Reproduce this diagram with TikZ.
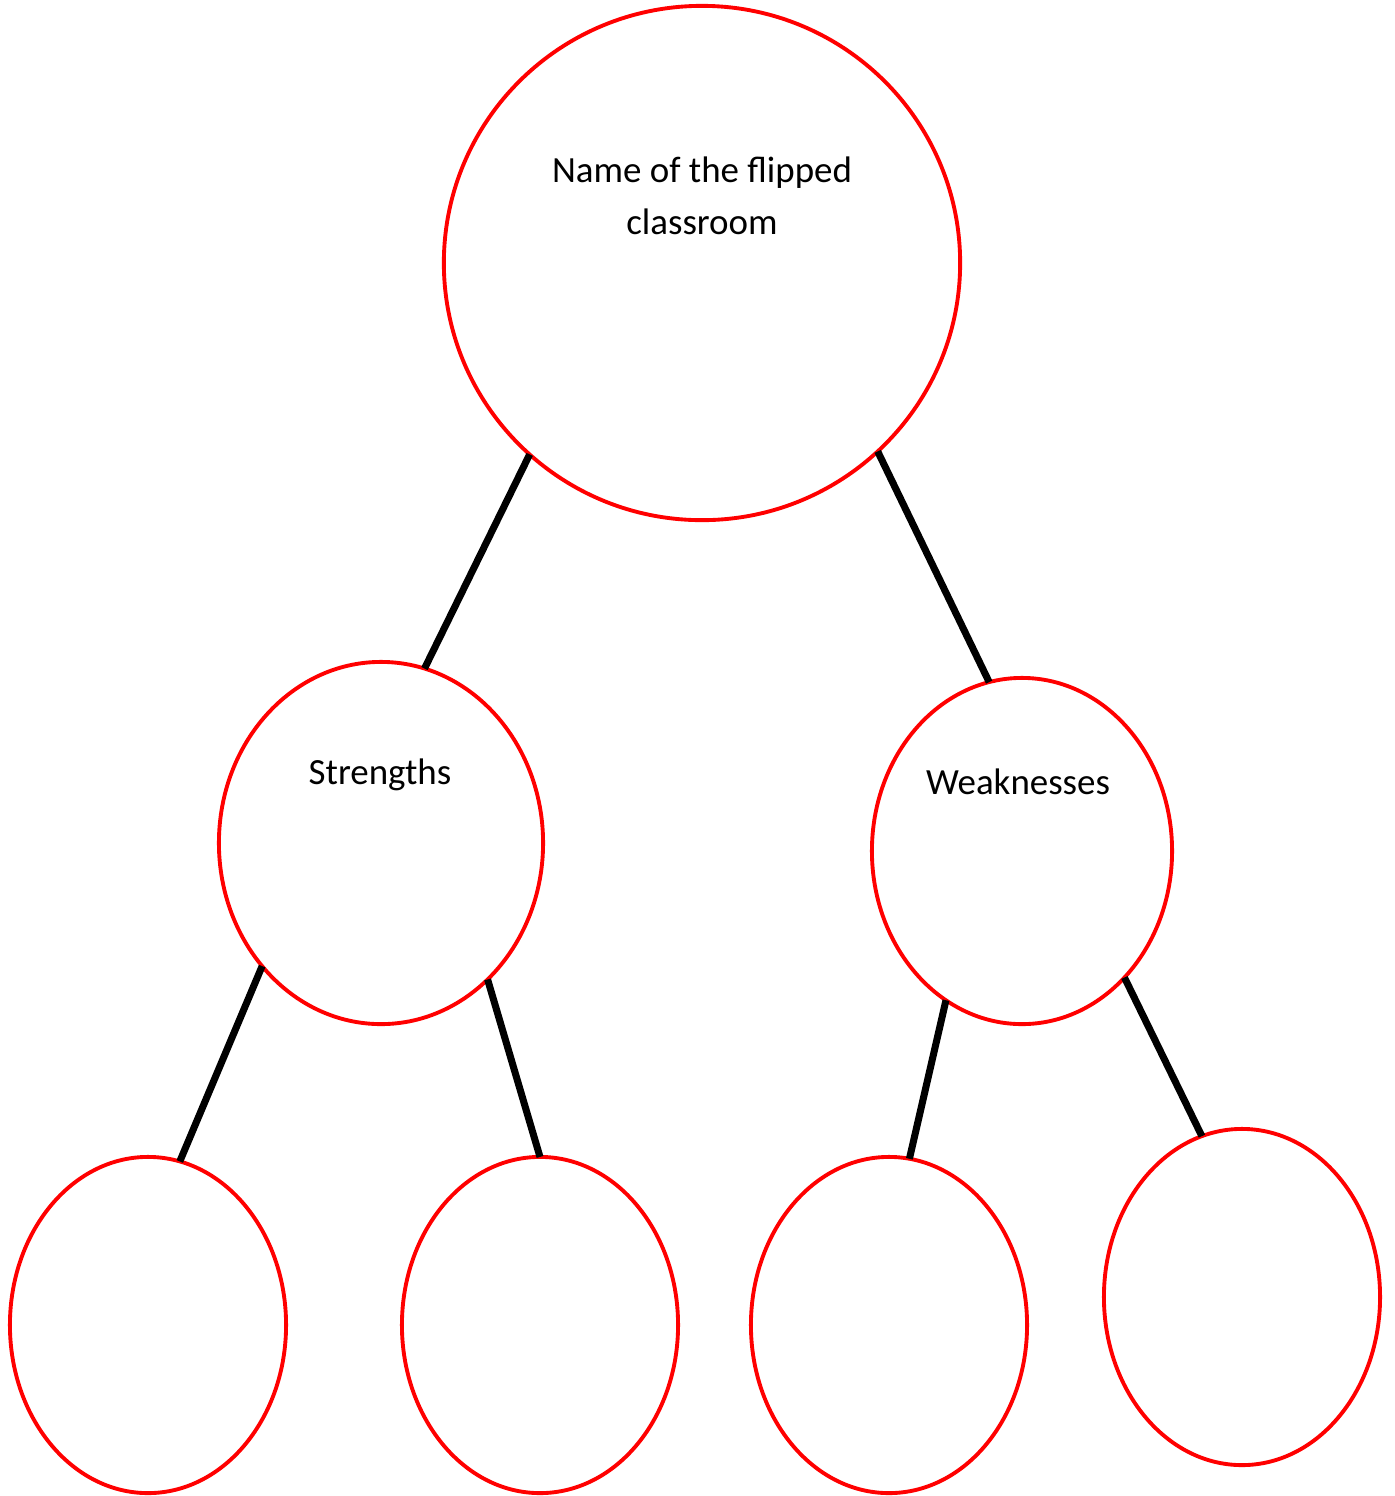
\documentclass[tikz,border=0pt]{standalone}
\usepackage{fontspec}
\setmainfont{Carlito}
\usetikzlibrary{shapes.geometric}

\begin{document}
\begin{tikzpicture}[x=0.01cm,y=-0.01cm,
        bubble/.style={draw=red, line width=1.1pt, ellipse, inner sep=0pt, outer sep=0pt},
        link/.style={line width=2pt, black},
        caption/.style={font=\fontsize{10.5}{14.8}\selectfont, align=center, inner sep=0pt}]
        \useasboundingbox (0,0) rectangle (1395,1496);

        % the ellipses
        \node[bubble, minimum width=5.16cm, minimum height=5.14cm] (flip) at (702,263) {};
        \node[bubble, minimum width=3.24cm, minimum height=3.62cm] (str) at (381,843) {};
        \node[bubble, minimum width=3.00cm, minimum height=3.46cm] (weak) at (1022,851) {};
        \node[bubble, minimum width=2.76cm, minimum height=3.36cm] (sa) at (148,1325) {};
        \node[bubble, minimum width=2.76cm, minimum height=3.36cm] (sb) at (540,1325) {};
        \node[bubble, minimum width=2.76cm, minimum height=3.36cm] (wa) at (889,1325) {};
        \node[bubble, minimum width=2.76cm, minimum height=3.36cm] (wb) at (1242,1297) {};

        % the texts
        \node[caption] (fliptext) at (702,196) {Name of the flipped\\classroom};
        \node[caption, anchor=base] (strtext) at (380,784) {Strengths};
        \node[caption, anchor=base] (weaktext) at (1018,794) {Weaknesses};

        % the links
        \draw[link] (flip.228) -- (str.76);
        \draw[link] (flip.313) -- (weak.101);
        \draw[link] (str.226) -- (sa.79);
        \draw[link] (str.308) -- (sb.90);
        \draw[link] (weak.243) -- (wa.83);
        \draw[link] (weak.309) -- (wb.104);
    \end{tikzpicture}
\end{document}
